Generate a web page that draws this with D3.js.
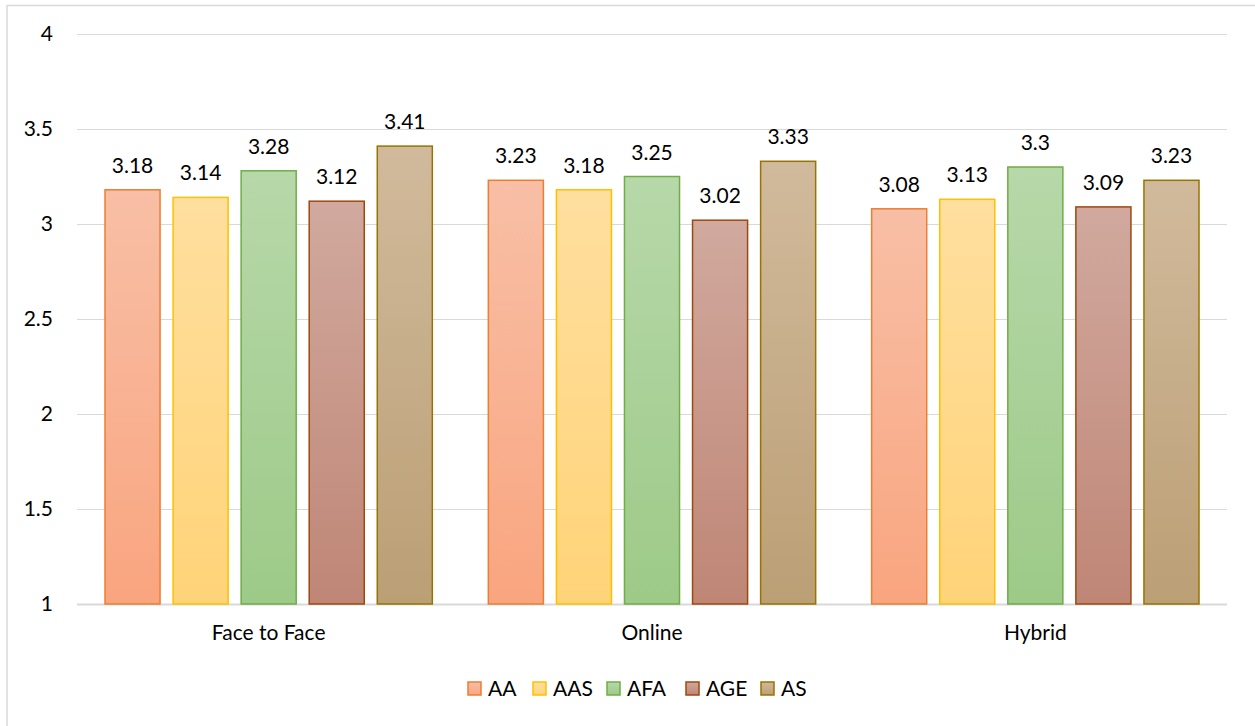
<!DOCTYPE html>
<meta charset="utf-8">
<head>
<script src="https://cdn.jsdelivr.net/npm/d3@7/dist/d3.min.js"></script>
<style>
  body { margin: 0; background: #fff; }
  text { font-family: Lato, "Open Sans", sans-serif; fill: #000; }
</style>
</head>
<body>
<div id="chart"></div>
<script>
// data
var categories = ["Face to Face", "Online", "Hybrid"];
var seriesNames = ["AA", "AAS", "AFA", "AGE", "AS"];
var AA  = [3.18, 3.23, 3.08];
var AAS = [3.14, 3.18, 3.13];
var AFA = [3.28, 3.25, 3.30];
var AGE = [3.12, 3.02, 3.09];
var AS  = [3.41, 3.33, 3.23];
var yTicks = [1, 1.5, 2, 2.5, 3, 3.5, 4];

var values = [AA, AAS, AFA, AGE, AS];

// fill gradient (top, bottom) and outline per series
var colors = [
  {top: "#f8bfa6", bottom: "#f9a57f", stroke: "#ed7d31"},
  {top: "#ffdf9f", bottom: "#ffd378", stroke: "#ffc000"},
  {top: "#b7d8a9", bottom: "#9dca88", stroke: "#70ad47"},
  {top: "#d1a99e", bottom: "#bf8676", stroke: "#9e480e"},
  {top: "#d1ba9c", bottom: "#bb9f75", stroke: "#997300"}
];

var W = 1255, H = 726;
var m = {left: 77, right: 28, top: 34, bottom: 122};
var fs = "21px";

var svg = d3.select("#chart").append("svg")
    .attr("width", W).attr("height", H);

// outer chart border
svg.append("rect")
    .attr("x", 7).attr("y", 5.5)
    .attr("width", W + 20).attr("height", H + 20)
    .attr("fill", "#fff").attr("stroke", "#d9d9d9").attr("stroke-width", 1.5);

var x0 = d3.scaleBand().domain(categories)
    .range([m.left, W - m.right]).paddingInner(0).paddingOuter(0);
var x1 = d3.scaleBand().domain(seriesNames)
    .range([28, x0.bandwidth() - 28]).paddingInner(13 / 68).paddingOuter(0);
var y = d3.scaleLinear().domain([1, 4]).range([H - m.bottom, m.top]);

var defs = svg.append("defs");
colors.forEach(function (c, i) {
  var g = defs.append("linearGradient").attr("id", "grad" + i)
      .attr("x1", 0).attr("y1", 0).attr("x2", 0).attr("y2", 1);
  g.append("stop").attr("offset", "0%").attr("stop-color", c.top);
  g.append("stop").attr("offset", "100%").attr("stop-color", c.bottom);
});

// gridlines
svg.append("g").selectAll("line").data(yTicks).join("line")
    .attr("x1", m.left).attr("x2", W - m.right)
    .attr("y1", function (d) { return Math.round(y(d)) + 0.5; })
    .attr("y2", function (d) { return Math.round(y(d)) + 0.5; })
    .attr("stroke", "#d9d9d9").attr("stroke-width", function (d) { return d === 1 ? 2 : 1; });

// y axis labels
var yAxis = d3.axisLeft(y).tickValues(yTicks).tickSize(0).tickPadding(0)
    .tickFormat(function (d) { return String(d); });
var ya = svg.append("g").attr("transform", "translate(53,0)").call(yAxis);
ya.select(".domain").remove();
ya.selectAll("text").style("font-size", fs).style("font-family", "Lato, sans-serif")
    .attr("fill", "#000");

// x axis labels
var xAxis = d3.axisBottom(x0).tickSize(0).tickPadding(0);
var xa = svg.append("g").attr("transform", "translate(0," + (H - m.bottom + 21) + ")").call(xAxis);
xa.select(".domain").remove();
xa.selectAll("text").style("font-size", fs).style("font-family", "Lato, sans-serif")
    .attr("fill", "#000");

// bars
var groups = svg.append("g").selectAll("g").data(categories).join("g")
    .attr("transform", function (d) { return "translate(" + x0(d) + ",0)"; });

groups.each(function (cat, ci) {
  var g = d3.select(this);
  seriesNames.forEach(function (s, si) {
    var v = values[si][ci];
    g.append("rect")
        .attr("x", x1(s)).attr("width", x1.bandwidth())
        .attr("y", y(v)).attr("height", y(1) - y(v))
        .attr("fill", "url(#grad" + si + ")")
        .attr("stroke", colors[si].stroke).attr("stroke-width", 1.5);
    g.append("text")
        .attr("x", x1(s) + x1.bandwidth() / 2)
        .attr("y", y(v) - 17)
        .attr("text-anchor", "middle")
        .style("font-size", fs)
        .text(String(v));
  });
});

// legend
var legendX = [468, 533, 607, 686, 761];
var lg = svg.append("g").selectAll("g").data(seriesNames).join("g")
    .attr("transform", function (d, i) { return "translate(" + legendX[i] + ",682)"; });
lg.append("rect").attr("width", 13).attr("height", 13)
    .attr("fill", function (d, i) { return "url(#grad" + i + ")"; })
    .attr("stroke", function (d, i) { return colors[i].stroke; }).attr("stroke-width", 1.5);
lg.append("text").attr("x", 20).attr("y", 14)
    .style("font-size", fs).text(function (d) { return d; });
</script>
</body>
